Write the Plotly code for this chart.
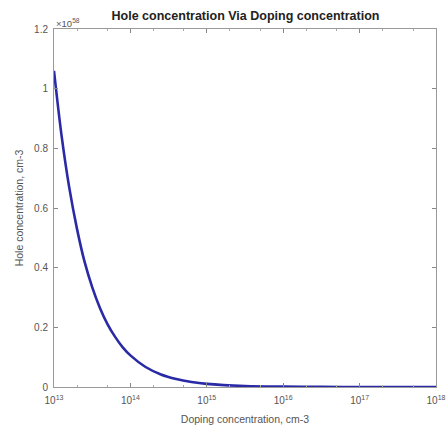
import plotly.graph_objects as go

# Doping concentration (cm^-3) and hole concentration (x1e58)
doping = [1e13, 1.26e13, 1.58e13, 2e13, 2.51e13, 3.16e13, 3.98e13, 5.01e13, 6.31e13, 7.94e13,
          1e14, 1.58e14, 2.51e14, 3.98e14, 6.31e14, 1e15, 3.16e15, 1e16, 3.16e16, 1e17, 3.16e17, 1e18]
hole = [1.06, 0.84, 0.67, 0.53, 0.42, 0.335, 0.266, 0.211, 0.168, 0.133,
        0.106, 0.067, 0.042, 0.0266, 0.0168, 0.0106, 0.0034, 0.0011, 0.0003, 0.0001, 0.00003, 0.00001]

x_tickvals = [1e13, 1e14, 1e15, 1e16, 1e17, 1e18]
x_ticktext = ["10<sup>13</sup>", "10<sup>14</sup>", "10<sup>15</sup>", "10<sup>16</sup>", "10<sup>17</sup>", "10<sup>18</sup>"]
y_tickvals = [0, 0.2, 0.4, 0.6, 0.8, 1, 1.2]
y_ticktext = ["0", "0.2", "0.4", "0.6", "0.8", "1", "1.2"]

txt = "#555555"
fig = go.Figure()
fig.add_trace(go.Scatter(x=doping, y=hole, mode="lines",
                         line=dict(color="#2a2aa6", width=2.6, shape="spline"),
                         showlegend=False))

fig.update_layout(
    width=448, height=430,
    margin=dict(l=54, r=12, t=29, b=43),
    paper_bgcolor="white", plot_bgcolor="white",
    font=dict(family="Liberation Sans, Arial, sans-serif", color=txt, size=10),
    title=dict(text="<b>Hole concentration Via Doping concentration</b>",
               x=0.548, xanchor="center", y=0.963, yanchor="middle",
               font=dict(size=12.5, color="#222222")),
    xaxis=dict(type="log", range=[13, 18], tickvals=x_tickvals, ticktext=x_ticktext,
               ticks="inside", ticklen=4, tickcolor="#888", showgrid=False,
               showline=True, linecolor="#999", linewidth=1, mirror="allticks",
               zeroline=False, ticklabelstandoff=4, automargin=False,
               minor=dict(ticks="inside", ticklen=2, tickcolor="#aaa", showgrid=False),
               title=dict(text="Doping concentration, cm-3", font=dict(size=10.5, color=txt), standoff=10),
               tickfont=dict(size=10, color=txt)),
    yaxis=dict(range=[0, 1.2], tickvals=y_tickvals, ticktext=y_ticktext,
               ticks="inside", ticklen=4, tickcolor="#888", showgrid=False,
               showline=True, linecolor="#999", linewidth=1, mirror="allticks",
               zeroline=False, ticklabelstandoff=3, automargin=False,
               title=dict(text="Hole concentration, cm-3", font=dict(size=10.5, color=txt), standoff=8),
               tickfont=dict(size=10, color=txt)),
)
fig.add_annotation(text="\u00d710<sup>58</sup>", xref="paper", yref="paper", x=0.0, y=1.0,
                   xanchor="left", yanchor="bottom", showarrow=False,
                   font=dict(size=9.5, color=txt), yshift=-2)
fig.write_html("out.html")
